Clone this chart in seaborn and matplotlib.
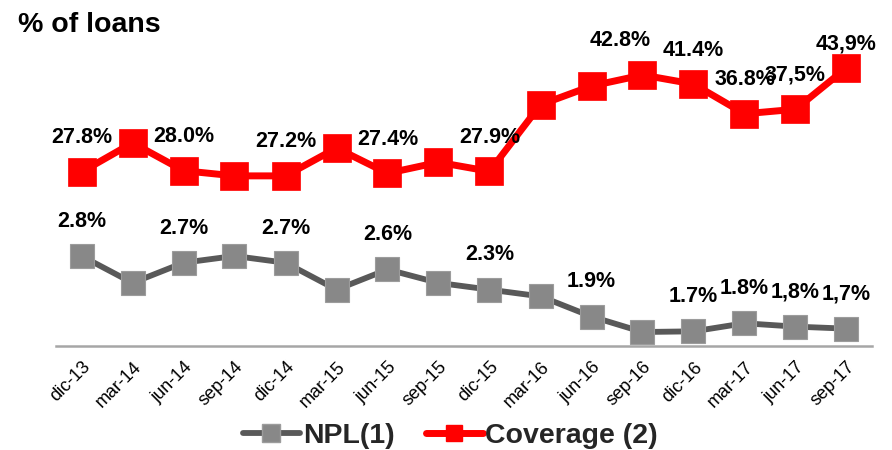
import matplotlib
matplotlib.use("Agg")
import matplotlib.pyplot as plt
import seaborn as sns
import numpy as np
import pandas as pd
from matplotlib.lines import Line2D

periods = ["dic-13", "mar-14", "jun-14", "sep-14", "dic-14", "mar-15", "jun-15", "sep-15",
           "dic-15", "mar-16", "jun-16", "sep-16", "dic-16", "mar-17", "jun-17", "sep-17"]
npl = [2.8, 2.4, 2.7, 2.8, 2.7, 2.3, 2.6, 2.4, 2.3, 2.2, 1.9, 1.67, 1.68, 1.8, 1.75, 1.72]
coverage = [27.8, 32.3, 28.0, 27.2, 27.2, 31.5, 27.6, 29.3, 27.9, 38.2, 41.1, 42.8, 41.4, 36.8, 37.5, 43.9]
npl_labels = ["2.8%", "", "2.7%", "", "2.7%", "", "2.6%", "", "2.3%", "", "1.9%", "", "1.7%", "1.8%", "1,8%", "1,7%"]
cov_labels = ["27.8%", "", "28.0%", "", "27.2%", "", "27.4%", "", "27.9%", "", "", "42.8%", "41.4%", "36.8%", "37,5%", "43,9%"]

sns.set_theme(style="white")
plt.rcParams["font.family"] = ["Liberation Sans", "DejaVu Sans"]

df = pd.DataFrame({"pos": np.arange(len(periods)), "npl": npl, "coverage": coverage})

fig = plt.figure(figsize=(8.92, 4.5), dpi=100)
ax = fig.add_axes([56 / 892, 1 - 346 / 450, (872 - 56) / 892, (346 - 40) / 450])
ax2 = ax.twinx()

gray_line = "#595959"
gray_mark = "#888888"
red = "#ff0000"

sns.lineplot(data=df, x="pos", y="npl", ax=ax, color=gray_line, linewidth=4.2,
             marker="s", markersize=17, markerfacecolor=gray_mark,
             markeredgecolor="#9c9c9c", markeredgewidth=0.8, zorder=3)
sns.lineplot(data=df, x="pos", y="coverage", ax=ax2, color=red, linewidth=5,
             marker="s", markersize=19.5, markerfacecolor=red,
             markeredgecolor=red, markeredgewidth=0.5, zorder=3)

ax.set_xlim(-0.5, len(periods) - 0.5)
ax.set_ylim(1.462, 6.011)
ax2.set_ylim(0.894, 48.21)

for a in (ax, ax2):
    a.set_ylabel("")
    a.set_xlabel("")
    a.set_yticks([])
    for s in ("top", "right", "left"):
        a.spines[s].set_visible(False)
ax2.spines["bottom"].set_visible(False)
ax.spines["bottom"].set_color("#a6a6a6")
ax.spines["bottom"].set_linewidth(1.8)

ax.set_xticks(df["pos"])
ax.set_xticklabels(periods, rotation=45, ha="right", rotation_mode="anchor",
                   fontsize=13, color="#000000")
ax.tick_params(axis="x", length=0, pad=9)

for i, (v, t) in enumerate(zip(npl, npl_labels)):
    if t:
        ax.annotate(t, (i, v), xytext=(0, 25), textcoords="offset points",
                    ha="center", va="center", fontsize=15.5, fontweight="bold", color="black")

cov_dx = {11: -16}
cov_dy = {15: 17}
for i, (v, t) in enumerate(zip(coverage, cov_labels)):
    if t:
        ax2.annotate(t, (i, v), xytext=(cov_dx.get(i, 0), cov_dy.get(i, 24.5)),
                     textcoords="offset points", ha="center", va="center",
                     fontsize=15.5, fontweight="bold", color="black")

fig.text(18 / 892, 1 - 32 / 450, "% of loans", fontsize=20.5, fontweight="bold",
         ha="left", va="baseline", color="black")

handles = [
    Line2D([0], [0], color=gray_line, linewidth=4.2, marker="s", markersize=13,
           markerfacecolor=gray_mark, markeredgecolor="#9c9c9c"),
    Line2D([0], [0], color=red, linewidth=5, marker="s", markersize=12,
           markerfacecolor=red, markeredgecolor=red),
]
fig.legend(handles, ["NPL(1)", "Coverage (2)"], loc="center", ncol=2,
           bbox_to_anchor=(0.505, 1 - 436 / 450), frameon=False,
           prop={"weight": "bold", "size": 20.5}, handlelength=2.0,
           handletextpad=0.1, columnspacing=1.1, borderaxespad=0)

fig.savefig("out.png", dpi=100)
